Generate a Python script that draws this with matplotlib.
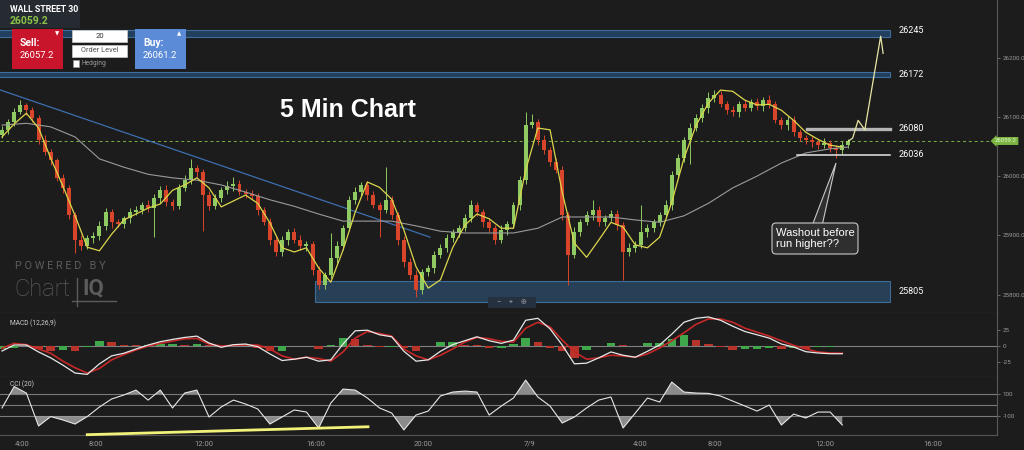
import matplotlib
matplotlib.use("Agg")
import numpy as np
from matplotlib import pyplot as plt
from matplotlib.patches import Rectangle, FancyBboxPatch, Polygon
from matplotlib.transforms import blended_transform_factory

# ---- values (one slot per candle) ----
first_open = 26070
closes = [
    26078, 26091, 26108, 26120, 26111, 26098, 26061, 26040, 26027, 25997,
    25980, 25934, 25892, 25882, 25895, 25899, 25916, 25939, 25922, 25919,
    25929, 25939, 25943, 25951, 25946, 25963, 25976, 25956, 25949, 25980,
    25993, 26013, 26007, 25968, 25949, 25963, 25976, 25983, 25987, 25973,
    25970, 25966, 25943, 25922, 25892, 25872, 25892, 25906, 25892, 25882,
    25885, 25842, 25816, 25833, 25862, 25882, 25912, 25960, 25973, 25985,
    25968, 25951, 25943, 25960, 25934, 25892, 25855, 25833, 25808, 25838,
    25845, 25867, 25879, 25895, 25906, 25912, 25929, 25951, 25939, 25922,
    25912, 25892, 25909, 25919, 25951, 25993, 26086, 26091, 26061, 26044,
    26024, 26010, 25934, 25867, 25906, 25922, 25934, 25943, 25922, 25929,
    25936, 25917, 25872, 25879, 25884, 25906, 25912, 25922, 25934, 25951,
    26002, 26030, 26061, 26081, 26098, 26115, 26132, 26137, 26121, 26111,
    26108, 26121, 26115, 26125, 26118, 26128, 26121, 26094, 26086, 26094,
    26074, 26064, 26061, 26057, 26052, 26056, 26047, 26044, 26052, 26059,
]
up_wick = [
    6, 5, 7, 8, 4, 6, 5, 8, 6, 4,
    7, 5, 6, 9, 5, 6, 8, 7, 5, 6,
    4, 7, 6, 5, 8, 6, 7, 9, 5, 6,
    8, 16, 6, 5, 7, 6, 5, 8, 11, 6,
    5, 7, 6, 4, 8, 6, 7, 5, 6, 8,
    6, 5, 7, 6, 42, 8, 6, 7, 9, 5,
    6, 7, 5, 55, 6, 5, 7, 6, 8, 6,
    5, 7, 6, 8, 5, 6, 7, 9, 6, 5,
    7, 6, 8, 5, 6, 7, 22, 14, 6, 8,
    5, 6, 7, 6, 8, 5, 7, 17, 6, 5,
    7, 6, 5, 8, 6, 45, 7, 5, 6, 8,
    6, 7, 5, 8, 6, 7, 9, 8, 6, 5,
    7, 6, 8, 5, 7, 6, 9, 5, 6, 7,
    8, 6, 5, 7, 6, 8, 5, 6, 7, 4,
]
dn_wick = [
    5, 7, 6, 4, 8, 6, 7, 5, 9, 6,
    8, 6, 22, 7, 5, 8, 6, 7, 9, 5,
    6, 8, 5, 7, 6, 49, 8, 6, 7, 5,
    6, 7, 8, 60, 6, 5, 7, 6, 8, 5,
    7, 6, 8, 5, 9, 7, 6, 8, 5, 7,
    8, 9, 6, 7, 5, 8, 6, 5, 7, 6,
    8, 5, 46, 6, 7, 9, 8, 6, 12, 7,
    6, 8, 5, 7, 6, 8, 5, 6, 7, 8,
    6, 7, 5, 8, 6, 9, 7, 5, 8, 6,
    7, 5, 8, 51, 6, 7, 5, 8, 6, 7,
    5, 8, 47, 6, 7, 5, 8, 6, 7, 5,
    8, 6, 7, 40, 5, 6, 8, 7, 5, 6,
    7, 8, 5, 6, 7, 8, 6, 5, 7, 8,
    6, 5, 7, 8, 6, 5, 7, 14, 6, 5,
]

# studies, read every 2nd slot
line_bars = list(range(0, 140, 2))
yellow_ma = [
    26066, 26088, 26106, 26081, 26030, 25983, 25933, 25880, 25874, 25902,
    25926, 25936, 25946, 25953, 25976, 25985, 25997, 25980, 25948, 25958,
    25968, 25954, 25921, 25879, 25872, 25879, 25845, 25821, 25875, 25939,
    25990, 25981, 25961, 25909, 25847, 25811, 25825, 25879, 25917, 25936,
    25928, 25912, 25912, 26010, 26081, 26078, 25973, 25887, 25863, 25892,
    25922, 25914, 25884, 25879, 25897, 25956, 26030, 26086, 26123, 26145,
    26143, 26128, 26120, 26121, 26111, 26094, 26074, 26062, 26052, 26049,
]
grey_bars = list(range(0, 137, 4)) + [139]
grey_ma = [
    26086, 26089, 26083, 26066, 26029, 26015, 26003, 25997, 25993, 25985,
    25973, 25960, 25949, 25936, 25924, 25924, 25924, 25916, 25907, 25904,
    25904, 25904, 25912, 25931, 25931, 25931, 25926, 25922, 25933, 25954,
    25980, 26000, 26022, 26039, 26046, 26049,
]
macd = [
    -7.6, 1.5, 1.5, -9, -18, -29, -41, -43, -27, -15,
    -11, -4.5, 1.5, 6.5, 10, 13, 15, 4.5, -2, 2,
    3, -1, -12, -22, -20, -17, -23, -21, 3, 23,
    24, 17, 14, -8, -23, -21, -8, 2, 8, 14,
    8, 4, 9, 39, 42, 26, 1.5, -27, -26, -18,
    -9, -14, -17, -8, 1.5, 18, 36, 42, 44, 39,
    30, 22, 17, 12, 3, -1.5, -8.6, -10.6, -11.7, -11.7,
]
signal = [
    -3.5, 4, 2, -4.5, -11, -23, -33, -41, -34, -21,
    -13, -6, 0, 4, 7.5, 11, 11.5, 3, 0, 1,
    1.5, 1.5, -4.5, -15, -20, -17, -19, -23, -9, 12,
    22, 19, 15, -4.5, -15, -21, -14, -4.5, 6, 13,
    11, 7, 6, 27, 36, 29, 9, -9, -20, -18,
    -14, -15, -17, -12, -3, 8, 20, 33, 41, 41,
    36, 27, 21, 15, 8, 1, -4.5, -9, -10.6, -11,
]
cci = [
    -27, 168, 109, -191, -105, -136, -173, -105, -18, 55,
    91, 136, 45, 136, -27, 109, 136, -109, -18, 45,
    9, -36, -173, -109, -45, -64, -209, 18, 145, 136,
    64, -27, -73, -227, -91, -55, 82, 118, 127, 118,
    -91, -9, 64, 227, 73, -9, -164, -109, -27, 45,
    73, -209, -73, 64, 27, 209, 118, 109, 106, 82,
    36, -9, -55, 0, -182, -82, -118, -64, -64, -182,
]

tick_pos = [3.3, 15.5, 33.2, 51.6, 69.1, 86.7, 104.8, 117.1, 135.1, 152.8]
tick_labels = ["4:00", "8:00", "12:00", "16:00", "20:00", "7/9",
               "4:00", "8:00", "12:00", "16:00"]

# levels and drawings on the chart
last_price = 26059.2
band_top = (26234, 26247)
band_mid = (26167, 26176)
zone_low = (25788, 25823)
zone_low_start = 51.4
drawing_end = 145.8
level_080_start = 132.2
level_036_start = 130.5
level_labels = [26245, 26172, 26080, 26036, 25805]
trend_x = [-0.5, 70.3]
trend_y = [26146, 25897]
proj_x = [139, 139.7, 140.6, 141.7, 144.3, 144.7]
proj_y = [26059, 26064, 26094, 26078, 26236, 26207]
cci_trend_x = [14, 60.1]
cci_trend_y = [-270, -198]

BG = "#1c1c1c"
GREEN = "#8fcb62"
RED = "#d9452b"
AXC = "#9a9a9a"


def style_panel(ax):
    ax.set_facecolor(BG)
    for s in ["left", "top"]:
        ax.spines[s].set_visible(False)
    ax.spines["right"].set_color("#5a5a5a")
    ax.spines["bottom"].set_color("#555555")
    ax.yaxis.tick_right()
    ax.tick_params(axis="y", colors="#888888", labelcolor=AXC, labelsize=4.5,
                   length=2, width=0.5, pad=2)
    ax.tick_params(axis="x", length=0)


def draw_price(ax):
    c = np.array(closes, float)
    o = np.concatenate([[first_open], c[:-1]])
    hi = np.maximum(o, c) + np.array(up_wick)
    lo = np.minimum(o, c) - np.array(dn_wick)
    idx = np.arange(len(c))
    cols = np.where(c >= o, GREEN, RED)

    # zones drawn by hand
    for lo_p, hi_p in [band_top, band_mid]:
        ax.add_patch(Rectangle((-0.5, lo_p), drawing_end + 0.5, hi_p - lo_p,
                               facecolor="#223f5e", edgecolor="#3f6d9c", lw=0.8, zorder=2))
    ax.add_patch(Rectangle((zone_low_start, zone_low[0]), drawing_end - zone_low_start,
                           zone_low[1] - zone_low[0], facecolor="#2a4762", alpha=0.85,
                           edgecolor="#4578a8", lw=0.8, zorder=2))

    ax.axhline(last_price, color="#7cb342", lw=0.7, ls=(0, (3, 3)), zorder=2)
    ax.plot(trend_x, trend_y, color="#3d6fb0", lw=0.9, zorder=3)

    body = np.where(np.abs(c - o) < 1.5, 1.5, c - o)
    ax.vlines(idx, lo, hi, colors=cols, lw=0.7, zorder=4)
    ax.bar(idx, body, bottom=o, width=0.65, color=cols, zorder=5)

    ax.plot(grey_bars, grey_ma, color="#9a9a9a", lw=0.8, zorder=6)
    ax.plot(line_bars, yellow_ma, color="#dcd64c", lw=0.9, zorder=6)

    ax.plot([level_080_start, drawing_end], [26080, 26080], color="#b5b5b5", lw=2.4, zorder=6)
    ax.plot([level_036_start, drawing_end], [26036, 26036], color="#e6e6e6", lw=1.1, zorder=6)
    ax.plot(proj_x, proj_y, color="#e8e6a6", lw=0.9, zorder=7)

    for p in level_labels:
        ax.text(drawing_end + 1.5, p, str(p), color="white", fontsize=6.5,
                va="center", ha="left", zorder=8)

    tr = blended_transform_factory(ax.transAxes, ax.transData)
    ax.text(0.998, last_price, "26059.2", transform=tr, fontsize=4.3, color="#dfffd0",
            va="center", ha="left", clip_on=False, zorder=9,
            bbox=dict(boxstyle="larrow,pad=0.25", fc="#7cb342", ec="none"))

    ax.set_ylim(25769, 26297)
    ax.set_yticks([25800, 25900, 26000, 26100, 26200])
    ax.set_yticklabels(["%.1f" % v for v in [25800, 25900, 26000, 26100, 26200]])


def draw_macd(ax):
    m = np.array(macd)
    s = np.array(signal)
    hist = m - s
    grow = np.concatenate([[True], np.diff(hist) >= 0])
    ax.axhline(0, color="#808080", lw=0.8, zorder=1)
    ax.bar(line_bars, hist, width=1.4, color=np.where(grow, "#3ea84a", "#b8342a"), zorder=2)
    ax.plot(line_bars, s, color="#c62828", lw=1.2, zorder=3)
    ax.plot(line_bars, m, color="#e8e8e8", lw=0.9, zorder=4)
    ax.set_ylim(-47, 50)
    ax.set_yticks([25, 0, -25])
    ax.set_yticklabels(["25", "0", "-25"])


def draw_cci(ax):
    v = np.array(cci, float)
    for lvl in [100, 0, -100]:
        ax.axhline(lvl, color="#7a7a7a", lw=0.8, zorder=1)
    ax.fill_between(line_bars, v, 100, where=v > 100, interpolate=True,
                    color="#a0a0a0", alpha=0.85, lw=0, zorder=2)
    ax.fill_between(line_bars, v, -100, where=v < -100, interpolate=True,
                    color="#a0a0a0", alpha=0.85, lw=0, zorder=2)
    ax.plot(line_bars, v, color="#e6e6e6", lw=0.8, zorder=3)
    ax.plot(cci_trend_x, cci_trend_y, color="#f2f27a", lw=2, zorder=4, clip_on=False)
    ax.set_ylim(-273, 255)
    ax.set_yticks([100, -100])
    ax.set_yticklabels(["100", "-100"])
    ax.set_xticks(tick_pos)
    ax.set_xticklabels(tick_labels)
    ax.tick_params(axis="x", labelsize=5.5, labelcolor=AXC, pad=4)


def draw_ui(fig):
    ui = fig.add_axes([0, 0, 1, 1], zorder=20)
    ui.set_xlim(0, 1024)
    ui.set_ylim(450, 0)
    ui.axis("off")
    ui.patch.set_alpha(0)

    ui.add_patch(Rectangle((0, 0), 80, 28, fc="#262b31", ec="none"))
    ui.text(10, 9, "WALL STREET 30", color="white", fontsize=6.3, weight="bold", va="center")
    ui.text(10, 21.5, "26059.2", color="#8bc34a", fontsize=7.5, weight="bold", va="center")

    ui.add_patch(Rectangle((12, 29), 51, 40, fc="#c8152b", ec="none"))
    ui.text(20, 43, "Sell:", color="white", fontsize=7.5, weight="bold", va="center")
    ui.text(20, 56, "26057.2", color="white", fontsize=6.8, va="center")
    ui.text(57, 33.5, "▼", color="white", fontsize=4, ha="center", va="center")

    ui.add_patch(Rectangle((72, 29.5), 55, 12, fc="white", ec="#cccccc", lw=0.5))
    ui.text(99.5, 35.5, "20", color="#333333", fontsize=5.5, ha="center", va="center")
    ui.add_patch(Rectangle((72, 45), 55, 12, fc="white", ec="#cccccc", lw=0.5))
    ui.text(99.5, 51, "Order Level", color="#555555", fontsize=5.3, ha="center", va="center")
    ui.add_patch(Rectangle((72.5, 60), 6, 6.5, fc="white", ec="#999999", lw=0.5))
    ui.text(82, 63.3, "Hedging", color="#9a9a9a", fontsize=4.8, va="center")

    ui.add_patch(Rectangle((134.5, 29), 51, 40, fc="#5b8ad6", ec="none"))
    ui.text(143, 43, "Buy:", color="white", fontsize=7.5, weight="bold", va="center")
    ui.text(143, 56, "26061.2", color="white", fontsize=6.8, va="center")
    ui.text(179, 33.5, "▲", color="white", fontsize=4, ha="center", va="center")

    ui.text(348, 110, "5 Min Chart", color="white", fontsize=18, weight="bold",
            family="Liberation Sans", ha="center", va="center")

    # ChartIQ watermark
    ui.text(15, 266, "P O W E R E D   B Y", color="#5c5c5c", fontsize=7.8, va="center")
    ui.text(14, 289, "Chart", color="#5c5c5c", fontsize=17, weight="light", va="center")
    ui.plot([77, 77], [278, 306], color="#5c5c5c", lw=1)
    ui.plot([72, 116], [300.5, 300.5], color="#5c5c5c", lw=1)
    ui.text(82, 288, "IQ", color="#5c5c5c", fontsize=16, weight="bold", va="center")

    ui.add_patch(Rectangle((488, 296.5), 48, 11, fc="#263140", ec="none"))
    ui.text(512, 302, "−    +    ⊕", color="#8a9099", fontsize=5.5, ha="center", va="center")

    ui.text(10, 323, "MACD (12,26,9)", color="#cfcfcf", fontsize=4.8, va="center")
    ui.text(10, 384, "CCI (20)", color="#cfcfcf", fontsize=4.8, va="center")

    # callout
    ui.add_patch(Polygon([(812, 226), (822, 226), (836, 163)], closed=True,
                         fc="#2f2f2f", ec="#c8c8c8", lw=0.8))
    ui.add_patch(FancyBboxPatch((772, 223), 86, 31, boxstyle="round,pad=0,rounding_size=4",
                                fc="#2f2f2f", ec="#c8c8c8", lw=0.8))
    ui.text(776, 238.5, "Washout before\nrun higher??", color="white", fontsize=8,
            family="Liberation Sans", va="center", linespacing=1.05)


def main():
    plt.rcParams["font.family"] = ["Roboto", "DejaVu Sans"]
    fig = plt.figure(figsize=(10.24, 4.5), dpi=100)
    fig.patch.set_facecolor(BG)

    ax = fig.add_axes([0, 0.3044, 0.9736, 0.6956])
    ax_macd = fig.add_axes([0, 0.1622, 0.9736, 0.1422], sharex=ax)
    ax_cci = fig.add_axes([0, 0.0333, 0.9736, 0.1289], sharex=ax)
    for a in [ax, ax_macd, ax_cci]:
        style_panel(a)

    draw_price(ax)
    draw_macd(ax_macd)
    draw_cci(ax_cci)
    ax.set_xlim(-0.33, 163.4)
    for a in [ax, ax_macd]:
        plt.setp(a.get_xticklabels(), visible=False)

    draw_ui(fig)
    fig.savefig("out.png", dpi=100, facecolor=BG)


if __name__ == "__main__":
    main()
